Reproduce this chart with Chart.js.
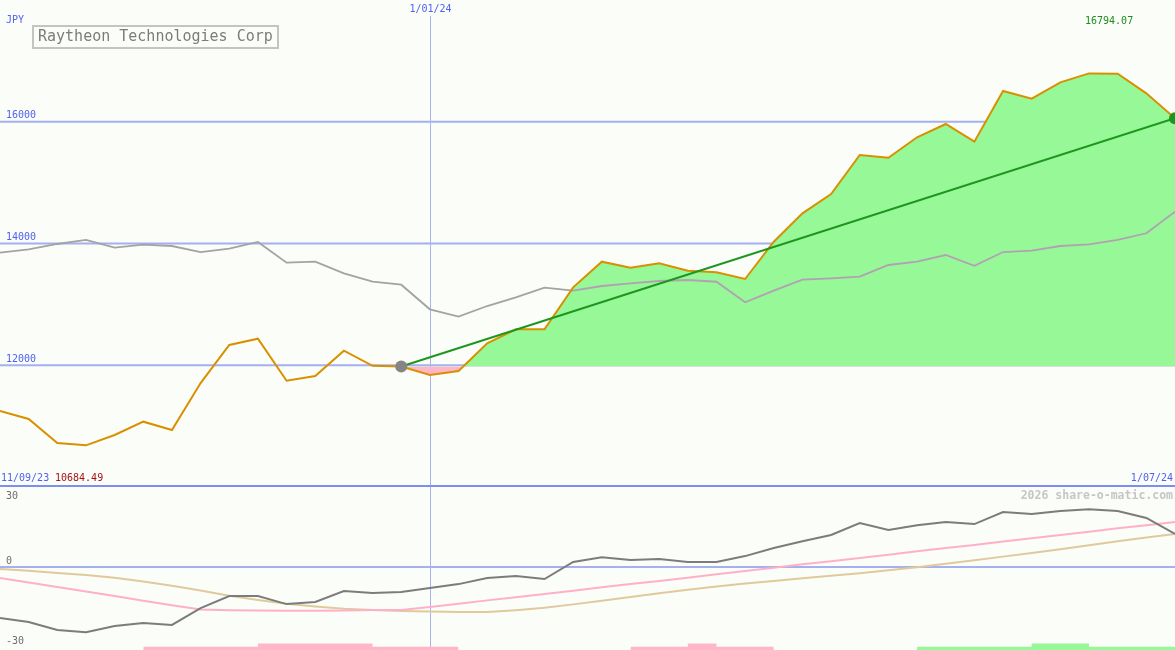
<!DOCTYPE html>
<html>
<head>
<meta charset="utf-8">
<title>Raytheon Technologies Corp</title>
<script src="https://cdn.jsdelivr.net/npm/chart.js@4.4.1/dist/chart.umd.min.js"></script>
<style>
    body { margin: 0; background: #fbfdf9; }
    #wrap { position: relative; width: 1175px; height: 650px; }
    #priceChart { position: absolute; left: 0; top: 0; }
    #oscChart { position: absolute; left: 0; top: 487px; }
</style>
</head>
<body>
<div id="wrap">
    <canvas id="priceChart" width="1175" height="487"></canvas>
    <canvas id="oscChart" width="1175" height="163"></canvas>
</div>
<script>
// Weekly closes (D/MM/YY)
const weeks = [
    '18/09/23', '25/09/23', '2/10/23', '9/10/23', '16/10/23', '23/10/23', '30/10/23',
    '6/11/23', '13/11/23', '20/11/23', '27/11/23', '4/12/23', '11/12/23', '18/12/23',
    '25/12/23', '1/01/24', '8/01/24', '15/01/24', '22/01/24', '29/01/24', '5/02/24',
    '12/02/24', '19/02/24', '26/02/24', '4/03/24', '11/03/24', '18/03/24', '25/03/24',
    '1/04/24', '8/04/24', '15/04/24', '22/04/24', '29/04/24', '6/05/24', '13/05/24',
    '20/05/24', '27/05/24', '3/06/24', '10/06/24', '17/06/24', '24/06/24', '1/07/24'
];
const periodStart = '11/09/23';
const markerWeek = '1/01/24';
const trendStart = 14; // index where the trend line / fill begins

// Share price in JPY
const price = [
    11249, 11117, 10723, 10684.49, 10854, 11073, 10936, 11708, 12333, 12436,
    11746, 11823, 12239, 11990, 11980, 11840, 11906, 12361, 12590, 12590,
    13280, 13701, 13602, 13675, 13553, 13527, 13417, 14030, 14496, 14813,
    15454, 15409, 15745, 15963, 15672, 16505, 16379, 16648, 16794.07, 16790,
    16467, 16057
];
// Market index, rebased to the price
const market = [
    13849, 13905, 13992, 14058, 13931, 13980, 13959, 13860, 13915, 14025,
    13685, 13701, 13510, 13372, 13323, 12919, 12798, 12973, 13116, 13274,
    13225, 13302, 13346, 13384, 13400, 13372, 13034, 13225, 13405, 13428,
    13455, 13647, 13701, 13811, 13635, 13860, 13882, 13959, 13987, 14058,
    14168, 14522
];

// Lower panel
const momentum = [
    -19.1, -20.6, -23.6, -24.4, -22.1, -21.0, -21.7, -15.4, -10.9, -10.9,
    -13.9, -13.1, -9.0, -9.7, -9.4, -7.9, -6.4, -4.1, -3.4, -4.5,
    1.9, 3.7, 2.6, 3.0, 1.9, 1.9, 4.1, 7.1, 9.7, 12.0,
    16.5, 13.9, 15.7, 16.9, 16.1, 20.6, 19.9, 21.0, 21.7, 21.0,
    18.4, 12.4
];
const avgFast = [
    -4.1, -5.8, -7.5, -9.2, -10.9, -12.6, -14.3, -15.9, -16.2, -16.3,
    -16.4, -16.4, -16.3, -16.1, -16.1, -15.0, -13.8, -12.5, -11.3, -10.1,
    -8.9, -7.6, -6.4, -5.2, -4.0, -2.7, -1.5, -0.3, 1.0, 2.2,
    3.4, 4.6, 5.9, 7.1, 8.3, 9.6, 10.8, 12.0, 13.2, 14.5,
    15.7, 16.9
];
const avgSlow = [
    -0.7, -1.4, -2.2, -3.0, -4.0, -5.4, -7.0, -8.8, -10.8, -12.4,
    -13.8, -14.8, -15.6, -16.1, -16.5, -16.7, -16.9, -16.9, -16.2, -15.3,
    -14.0, -12.6, -11.2, -9.8, -8.5, -7.3, -6.2, -5.2, -4.2, -3.3,
    -2.3, -1.2, -0.1, 1.2, 2.5, 3.9, 5.3, 6.7, 8.2, 9.7,
    11.1, 12.4
];
// Signal strips along the bottom (1 = weak, 2 = strong)
const sellBars = [
    null, null, null, null, null, 1, 1, 1, 1, 2,
    2, 2, 2, 1, 1, 1, 1, null, null, null,
    null, null, 1, 1, 2, 1, 1, 1, null, null,
    null, null, null, null, null, null, null, null, null, null,
    null, null
];
const buyBars = [
    null, null, null, null, null, null, null, null, null, null,
    null, null, null, null, null, null, null, null, null, null,
    null, null, null, null, null, null, null, null, null, null,
    null, null, 1, 1, 1, 1, 2, 2, 1, 1,
    1, 1
];

const priceTicks = [12000, 14000, 16000];
const oscTicks = [30, 0, -30];

const MONO = '"DejaVu Sans Mono", "Liberation Mono", monospace';
const GRID_BLUE = '#a4b0f0';
const LABEL_BLUE = '#4f62ee';

function drawText(ctx, text, x, y, color, font, align) {
    ctx.save();
    ctx.font = font;
    ctx.fillStyle = color;
    ctx.textAlign = align || 'left';
    ctx.textBaseline = 'middle';
    ctx.fillText(text, x, y);
    ctx.restore();
}

function markerX(chart) {
    return Math.round(chart.scales.x.getPixelForValue(weeks.indexOf(markerWeek))) + 0.5;
}

// Gridlines and labels for the price panel
const priceDecor = {
    id: 'priceDecor',
    beforeDatasetsDraw(chart) {
        const { ctx, chartArea, scales } = chart;
        ctx.save();
        ctx.strokeStyle = GRID_BLUE;
        ctx.lineWidth = 2;
        priceTicks.forEach(t => {
            const y = scales.y.getPixelForValue(t);
            ctx.beginPath();
            ctx.moveTo(chartArea.left, y);
            ctx.lineTo(chartArea.right, y);
            ctx.stroke();
        });
        const mx = markerX(chart);
        ctx.strokeStyle = '#a9b2ea';
        ctx.lineWidth = 1;
        ctx.beginPath();
        ctx.moveTo(mx, 16);
        ctx.lineTo(mx, chartArea.bottom);
        ctx.stroke();
        ctx.restore();
    },
    afterDraw(chart) {
        const { ctx, chartArea, scales } = chart;
        const small = '10px ' + MONO;

        priceTicks.forEach(t => {
            const y = scales.y.getPixelForValue(t);
            drawText(ctx, String(t), 6, y - 6, LABEL_BLUE, small);
        });

        drawText(ctx, 'JPY', 6, 20, LABEL_BLUE, small);
        drawText(ctx, markerWeek, markerX(chart), 9, LABEL_BLUE, small, 'center');

        // title box
        ctx.save();
        ctx.strokeStyle = '#c4c4c4';
        ctx.lineWidth = 2;
        ctx.strokeRect(33, 26, 245, 22);
        ctx.restore();
        drawText(ctx, 'Raytheon Technologies Corp', 38, 37, '#7c7c7c', '15px ' + MONO);

        // high / low
        const hi = Math.max(...price).toFixed(2);
        const lo = Math.min(...price).toFixed(2);
        drawText(ctx, hi, 1085, 21, '#1e8c1e', small);
        drawText(ctx, periodStart, 1, 478, LABEL_BLUE, small);
        drawText(ctx, lo, 55, 478, '#a81414', small);
        drawText(ctx, weeks[weeks.length - 1], 1173, 478, LABEL_BLUE, small, 'right');

        // panel separator
        ctx.save();
        ctx.strokeStyle = '#7d8ef0';
        ctx.lineWidth = 2;
        ctx.beginPath();
        ctx.moveTo(chartArea.left, 486);
        ctx.lineTo(chartArea.right, 486);
        ctx.stroke();
        ctx.restore();
    }
};

const oscDecor = {
    id: 'oscDecor',
    beforeDatasetsDraw(chart) {
        const { ctx, chartArea, scales } = chart;
        ctx.save();
        ctx.strokeStyle = GRID_BLUE;
        ctx.lineWidth = 2;
        const y0 = scales.y.getPixelForValue(0);
        ctx.beginPath();
        ctx.moveTo(chartArea.left, y0);
        ctx.lineTo(chartArea.right, y0);
        ctx.stroke();
        const mx = markerX(chart);
        ctx.strokeStyle = '#a9b2ea';
        ctx.lineWidth = 1;
        ctx.beginPath();
        ctx.moveTo(mx, chartArea.top);
        ctx.lineTo(mx, chartArea.bottom);
        ctx.stroke();
        ctx.restore();
    },
    afterDraw(chart) {
        const { ctx, scales } = chart;
        oscTicks.forEach(t => {
            let y = scales.y.getPixelForValue(t) - 5.5;
            if (t === oscTicks[0]) y = 9;
            drawText(ctx, String(t), 6, y, '#6e6e6e', '10px ' + MONO);
        });
        drawText(ctx, '2026 share-o-matic.com', 1173, 9, '#c6c6c6', 'bold 11.5px ' + MONO, 'right');
    }
};

function buildPriceChart() {
    const ctx = document.getElementById('priceChart');
    const fillData = price.map((v, i) => (i >= trendStart ? v : null));
    const trendData = price.map((v, i) => (i === trendStart || i === price.length - 1 ? v : null));

    new Chart(ctx, {
        type: 'line',
        data: {
            labels: weeks,
            datasets: [{
                label: 'gain',
                data: fillData,
                borderWidth: 0,
                borderColor: 'rgba(0,0,0,0)',
                pointRadius: 0,
                fill: { target: { value: price[trendStart] }, above: '#96f896', below: '#ffb6c8' },
                order: 5
            }, {
                label: 'market',
                data: market,
                borderColor: '#a3a3a3',
                borderWidth: 1.8,
                pointRadius: 0,
                segment: {
                    borderColor: c => (c.p0DataIndex >= 20 ? '#b2a0b4' : '#a3a3a3')
                },
                order: 4
            }, {
                label: 'price',
                data: price,
                borderColor: '#d99000',
                borderWidth: 2,
                pointRadius: 0,
                order: 3
            }, {
                label: 'trend',
                data: trendData,
                spanGaps: true,
                borderColor: '#1e961e',
                borderWidth: 2,
                pointRadius: 6,
                pointBorderWidth: 0,
                pointBackgroundColor: c => (c.dataIndex === trendStart ? '#858585' : '#1e961e'),
                order: 1
            }]
        },
        options: {
            responsive: false,
            animation: false,
            layout: { padding: 0, autoPadding: false },
            plugins: { legend: { display: false }, tooltip: { enabled: false } },
            scales: {
                x: { type: 'category', display: false, offset: false },
                y: { display: false, min: 10000, max: 18000 }
            }
        },
        plugins: [priceDecor]
    });
}

function buildOscChart() {
    const ctx = document.getElementById('oscChart');

    new Chart(ctx, {
        type: 'line',
        data: {
            labels: weeks,
            datasets: [{
                label: 'sell',
                data: sellBars,
                yAxisID: 'yb',
                stepped: 'before',
                borderWidth: 0,
                borderColor: 'rgba(0,0,0,0)',
                backgroundColor: '#ffb6c8',
                pointRadius: 0,
                fill: 'origin',
                order: 5
            }, {
                label: 'buy',
                data: buyBars,
                yAxisID: 'yb',
                stepped: 'before',
                borderWidth: 0,
                borderColor: 'rgba(0,0,0,0)',
                backgroundColor: '#96f896',
                pointRadius: 0,
                fill: 'origin',
                order: 5
            }, {
                label: 'slow',
                data: avgSlow,
                borderColor: '#e0ca9c',
                borderWidth: 2,
                pointRadius: 0,
                order: 3
            }, {
                label: 'fast',
                data: avgFast,
                borderColor: '#ffb0c8',
                borderWidth: 2,
                pointRadius: 0,
                order: 2
            }, {
                label: 'momentum',
                data: momentum,
                borderColor: '#7c7c7c',
                borderWidth: 2,
                pointRadius: 0,
                order: 1
            }]
        },
        options: {
            responsive: false,
            animation: false,
            layout: { padding: 0, autoPadding: false },
            plugins: { legend: { display: false }, tooltip: { enabled: false } },
            scales: {
                x: { type: 'category', display: false, offset: false },
                y: { display: false, min: -31.1, max: 30 },
                yb: { display: false, min: 0, max: 50 }
            }
        },
        plugins: [oscDecor]
    });
}

buildPriceChart();
buildOscChart();
</script>
</body>
</html>
